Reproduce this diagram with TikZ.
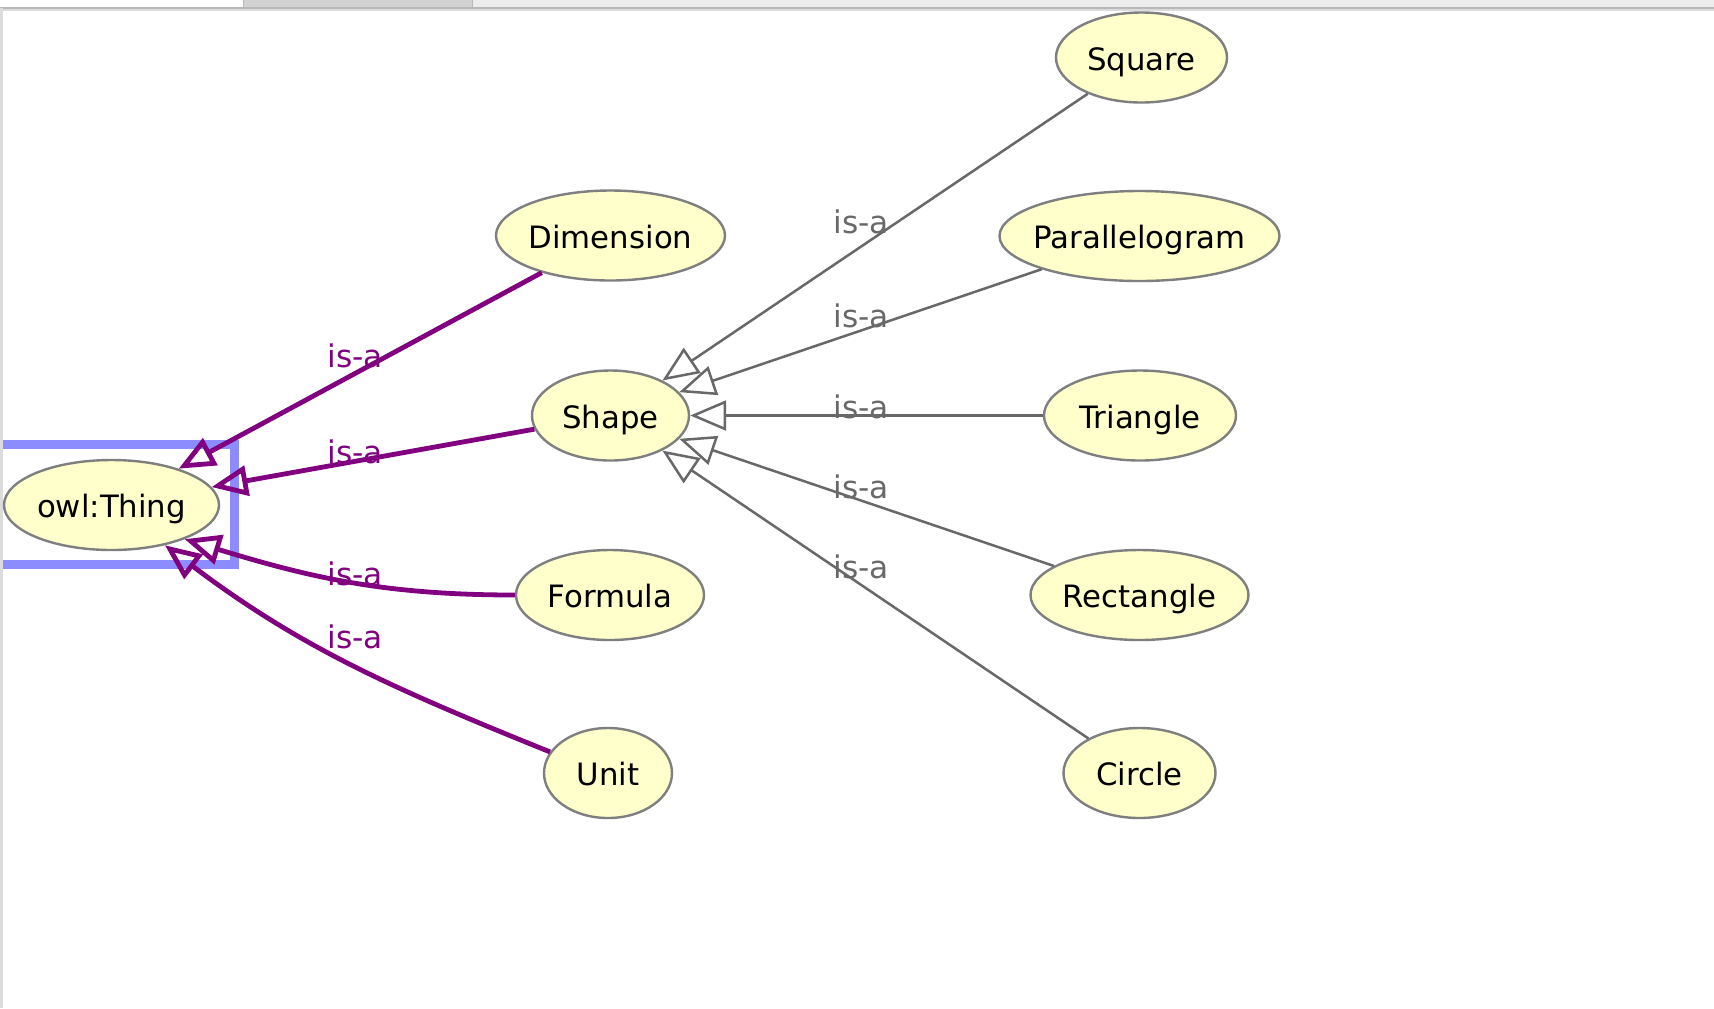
\documentclass[tikz,border=0pt]{standalone}
\usepackage{fontspec}
\setmainfont{DejaVu Sans}
\usetikzlibrary{shapes.geometric,arrows.meta}
\definecolor{nodefill}{HTML}{FFFFCC}
\definecolor{nodeborder}{HTML}{7F7F7F}
\definecolor{isapurple}{HTML}{800080}
\definecolor{isagray}{HTML}{686868}
\definecolor{selblue}{HTML}{8C8CFF}
\definecolor{tabdark}{HTML}{D2D2D2}
\definecolor{tablight}{HTML}{EDEDED}
\definecolor{tabline}{HTML}{B8B8B8}
\definecolor{frameline}{HTML}{DCDCDC}
\begin{document}
\begin{tikzpicture}[x=0.5pt,y=0.5pt,
  cls/.style={ellipse, draw=nodeborder, fill=nodefill, line width=1.2pt, inner sep=0pt,
    minimum height=45pt, minimum width=#1, text height=12.5pt, text depth=0pt,
    font=\fontsize{15.4pt}{18pt}\selectfont},
  pedge/.style={draw=isapurple, line width=2.4pt, line join=miter,
    -{Triangle[open,length=18pt,width=15pt]}},
  gedge/.style={draw=isagray, line width=1.25pt, line join=miter,
    -{Triangle[open,length=18pt,width=15pt]}},
  plabel/.style={text=isapurple, anchor=base, inner sep=0pt, font=\fontsize{15.6pt}{18pt}\selectfont},
  glabel/.style={text=isagray, anchor=base, inner sep=0pt, font=\fontsize{15.6pt}{18pt}\selectfont}]
% canvas
\fill[white] (0,0) rectangle (1714,-1008);
\useasboundingbox (0,0) rectangle (1714,-1008);
% tab bar
\fill[white] (0,0) rectangle (243,-8);
\fill[tabdark] (243,0) rectangle (472,-8);
\fill[tablight] (472,0) rectangle (1714,-8);
\draw[tabline, line width=0.5pt] (243,0) -- (243,-8) (472,0) -- (472,-8);
\draw[tabline, line width=0.6pt] (0,-8) -- (1714,-8);
\fill[frameline] (0,-8.6) rectangle (1714,-10.5);
% selection frame
\draw[selblue, line width=4.6pt, line join=miter] (0,-444.5) -- (234.5,-444.5) -- (234.5,-564.5) -- (0,-564.5);
% left border
\fill[frameline] (0,-8) rectangle (2.5,-1008);
% nodes
\node[cls=107.5pt] (owl) at (111.5,-505) {\makebox[0pt]{owl:Thing}};
\node[cls=114.5pt] (dim) at (610.5,-235.5) {\makebox[0pt]{Dimension}};
\node[cls=78.5pt] (shape) at (610.5,-415.5) {\makebox[0pt]{Shape}};
\node[cls=94pt] (formula) at (610,-595) {\makebox[0pt]{Formula}};
\node[cls=64pt] (unit) at (608,-773) {\makebox[0pt]{Unit}};
\node[cls=85.5pt] (square) at (1141.5,-57.5) {\makebox[0pt]{Square}};
\node[cls=140pt] (para) at (1139.5,-236) {\makebox[0pt]{Parallelogram}};
\node[cls=96pt] (tri) at (1140,-415.5) {\makebox[0pt]{Triangle}};
\node[cls=109pt] (rect) at (1139.5,-595) {\makebox[0pt]{Rectangle}};
\node[cls=76pt] (circ) at (1139.5,-773) {\makebox[0pt]{Circle}};
% gray edges
\draw[gedge] (square) -- (shape);
\draw[gedge] (para) -- (shape);
\draw[gedge] (tri) -- (shape);
\draw[gedge] (rect) -- (shape);
\draw[gedge] (circ) -- (shape);
% purple edges
\draw[pedge] (dim) -- (owl);
\draw[pedge] (shape) -- (owl);
\draw[pedge] (formula.west) to[out=180,in=-17] (owl.-25);
\draw[pedge] (unit.160) to[out=158,in=-37] (owl.-37);
% labels
\node[glabel] (g1) at (861,-233) {is-a};
\node[glabel] (g2) at (861,-327) {is-a};
\node[glabel] (g3) at (861,-418) {is-a};
\node[glabel] (g4) at (861,-498) {is-a};
\node[glabel] (g5) at (861,-578) {is-a};
\node[plabel] (p1) at (355,-367) {is-a};
\node[plabel] (p2) at (355,-463) {is-a};
\node[plabel] (p3) at (355,-585) {is-a};
\node[plabel] (p4) at (355,-648) {is-a};
\end{tikzpicture}
\end{document}
